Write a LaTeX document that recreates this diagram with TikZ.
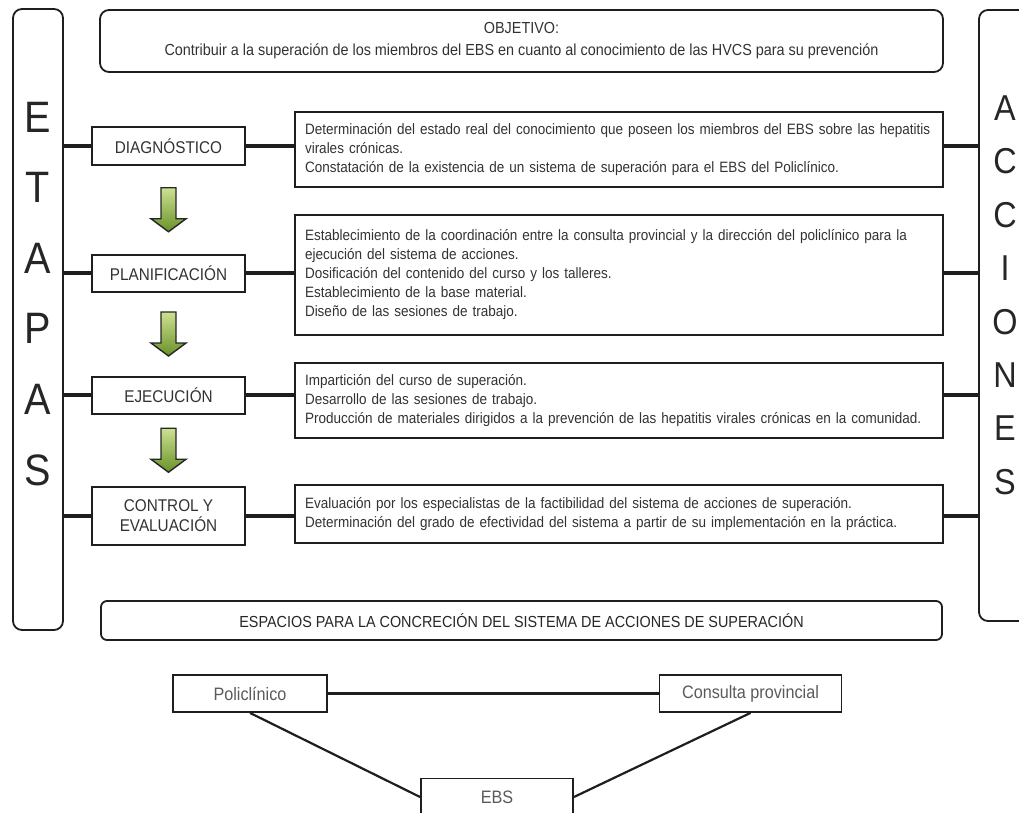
\documentclass[tikz,border=0pt]{standalone}
\usepackage{fontspec}
\setmainfont{Liberation Sans}[FakeStretch=0.9]
\usepackage{xcolor}
\usetikzlibrary{calc}

\definecolor{linea}{RGB}{30,30,30}
\definecolor{texto}{RGB}{50,50,50}
\definecolor{gris}{RGB}{90,90,90}
\definecolor{verdeclaro}{RGB}{205,225,145}
\definecolor{verdeoscuro}{RGB}{105,145,40}

\begin{document}
\begin{tikzpicture}
    [x=1pt, y=-1pt,
    marco/.style={rectangle, draw=linea, line width=1.8pt, rounded corners=9pt, inner sep=0pt},
    letra/.style={text=black!85, inner sep=0pt, font=\fontsize{44}{44}\selectfont},
    etapa/.style={rectangle, draw=linea, line width=2pt, minimum width=153pt, align=center, text=texto, font=\fontsize{17}{20}\selectfont},
    tarea/.style={rectangle, draw=linea, line width=2pt, text width=628pt, inner xsep=10pt, align=left, text=texto, font=\fontsize{15}{19}\selectfont},
    lugar/.style={rectangle, draw=linea, line width=1.8pt, minimum height=37pt, text=gris, font=\fontsize{18}{20}\selectfont},
    conector/.style={draw=linea, line width=3.4pt},
    enlace/.style={draw=linea, line width=2.2pt},
    flecha/.style={draw=black!85, line width=1.4pt, top color=verdeclaro, bottom color=verdeoscuro}]
    \useasboundingbox (0,0) rectangle (1019,812);

    \node(etapas)[marco, minimum width=50pt, minimum height=621pt] at (38,319.5) {};
    \node(acciones)[marco, minimum width=60pt, minimum height=611pt] at (1009,315.5) {};
    \foreach \l [count=\i] in {E,T,A,P,A,S}{
        \node(letraE\i)[letra] at (38,{117+70.6*(\i-1)}) {\l};
    }
    \foreach \l [count=\i] in {A,C,C,I,O,N,E,S}{
        \node(letraA\i)[letra, font=\fontsize{36}{36}\selectfont] at (1005,{108+53.4*(\i-1)}) {\l};
    }

    \node(objetivo)[marco, minimum width=843pt, minimum height=62pt, align=center, text=texto, font=\fontsize{16}{22}\selectfont] at (521.5,41)
        {OBJETIVO:\\Contribuir a la superación de los miembros del EBS en cuanto al conocimiento de las HVCS para su prevención};

    \node(diag)[etapa, minimum height=38pt] at (168.5,146) {DIAGNÓSTICO};
    \node(plan)[etapa, minimum height=37pt] at (168.5,273) {PLANIFICACIÓN};
    \node(ejec)[etapa, minimum height=37pt] at (168.5,395) {EJECUCIÓN};
    \node(control)[etapa, minimum height=58pt] at (168.5,516) {CONTROL Y\\EVALUACIÓN};

    \node(tdiag)[tarea, minimum height=75pt] at (619,149.5)
        {Determinación del estado real del conocimiento que poseen los miembros del EBS sobre las hepatitis\\virales crónicas.\\Constatación de la existencia de un sistema de superación para el EBS del Policlínico.};
    \node(tplan)[tarea, minimum height=120pt] at (619,275)
        {Establecimiento de la coordinación entre la consulta provincial y la dirección del policlínico para la\\ejecución del sistema de acciones.\\Dosificación del contenido del curso y los talleres.\\Establecimiento de la base material.\\Diseño de las sesiones de trabajo.};
    \node(tejec)[tarea, minimum height=75pt] at (619,400.5)
        {Impartición del curso de superación.\\Desarrollo de las sesiones de trabajo.\\Producción de materiales dirigidos a la prevención de las hepatitis virales crónicas en la comunidad.};
    \node(tcontrol)[tarea, minimum height=58pt] at (619,514)
        {Evaluación por los especialistas de la factibilidad del sistema de acciones de superación.\\Determinación del grado de efectividad del sistema a partir de su implementación en la práctica.};

    \foreach \e/\t in {diag/tdiag,plan/tplan,ejec/tejec,control/tcontrol}{
        \draw[conector] (etapas.east |- \e.west) -- (\e.west);
        \draw[conector] (\e.east) -- (\e.east -| \t.west);
        \draw[conector] (\t.east |- \e.east) -- (acciones.west |- \e.east);
    }

    \foreach \a/\b in {diag/plan,plan/ejec,ejec/control}{
        \coordinate(m\a) at ($(\a.south)!0.5!(\b.north)$);
        \path[flecha] ([shift={(-7.5,-22)}]m\a) -- ++(15,0) -- ++(0,31) -- ++(10,0)
            -- ++(-17.5,13) -- ++(-17.5,-13) -- ++(10,0) -- cycle;
    }

    \node(espacios)[marco, rounded corners=6pt, minimum width=841pt, minimum height=39pt, text=black!85, font=\fontsize{16}{19}\selectfont] at (521.5,620.5)
        {ESPACIOS PARA LA CONCRECIÓN DEL SISTEMA DE ACCIONES DE SUPERACIÓN};

    \node(poli)[lugar, minimum width=154pt] at (250,693.5) {Policlínico};
    \node(consulta)[lugar, minimum width=182pt] at (750.5,693.5) {Consulta provincial};
    \node(ebs)[lugar, minimum width=152pt] at (497,797) {EBS};
    \draw[enlace] (poli) -- (consulta);
    \draw[enlace] (poli.south) -- (ebs.west);
    \draw[enlace] (consulta.south) -- (ebs.east);
\end{tikzpicture}
\end{document}
